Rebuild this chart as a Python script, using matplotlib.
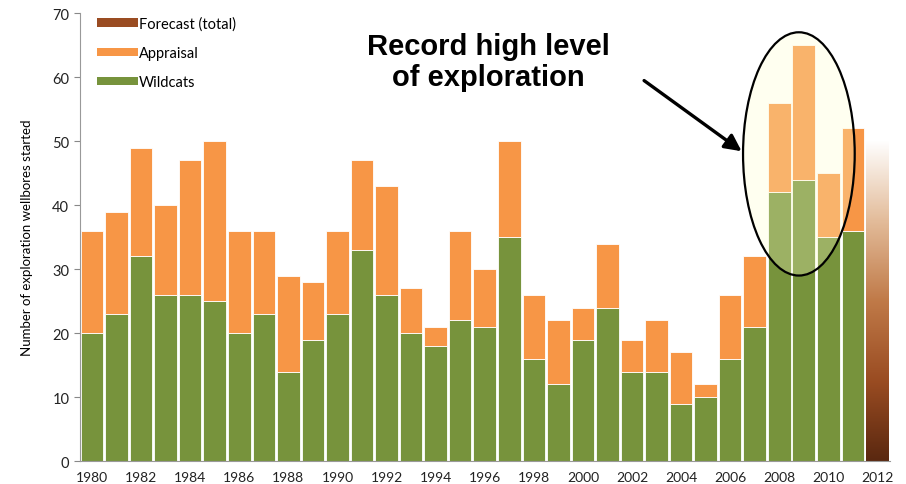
import numpy as np
import matplotlib
matplotlib.use("Agg")
import matplotlib.pyplot as plt
from matplotlib.patches import Ellipse, Patch
from matplotlib.colors import LinearSegmentedColormap

# Data
years = list(range(1980, 2012))
wildcats = [20, 23, 32, 26, 26, 25, 20, 23, 14, 19, 23, 33, 26, 20, 18, 22,
            21, 35, 16, 12, 19, 24, 14, 14, 9, 10, 16, 21, 42, 44, 35, 36]
totals = [36, 39, 49, 40, 47, 50, 36, 36, 29, 28, 36, 47, 43, 27, 21, 36,
          30, 50, 26, 22, 24, 34, 19, 22, 17, 12, 26, 32, 56, 65, 45, 52]
appraisal = [t - w for t, w in zip(totals, wildcats)]
forecast_year = 2012
forecast_total = 50
tick_years = list(range(1980, 2013, 2))

green = "#77933C"
orange = "#F79646"
plt.rcParams['font.family'] = ['Lato', 'DejaVu Sans']

fig = plt.figure(figsize=(9.06, 4.85), dpi=100)
ax = fig.add_axes([0.088, 0.047, 0.894, 0.924])

x = np.array(years)
bw = 0.92
ax.bar(x, wildcats, width=bw, color=green, edgecolor="white", linewidth=0.6, zorder=2)
ax.bar(x, appraisal, bottom=wildcats, width=bw, color=orange, edgecolor="white",
       linewidth=0.6, zorder=2)

# Forecast bar drawn as a vertical gradient
cmap = LinearSegmentedColormap.from_list("fc", ["#5a2810", "#9a4c22", "#c07a48", "#e3bc9a", "#ffffff"])
grad = np.linspace(0, 1, 256).reshape(-1, 1)
ax.imshow(grad, cmap=cmap, origin="lower", aspect="auto", zorder=2,
          extent=[forecast_year - bw / 2, forecast_year + bw / 2, 0, forecast_total])

ax.set_xlim(1979.5, 2012.5)
ax.set_ylim(0, 70)
ax.set_yticks(range(0, 71, 10))
ax.set_xticks(tick_years)
ax.set_xticklabels([str(y) for y in tick_years])
ax.tick_params(axis="x", length=0, labelsize=10, pad=7, colors="#222222")
ax.tick_params(axis="y", length=4, labelsize=10.5, color="#888888", colors="#222222")
ax.set_ylabel("Number of exploration wellbores started", fontsize=9.5, labelpad=14)
for s in ["top", "right"]:
    ax.spines[s].set_visible(False)
for s in ["left", "bottom"]:
    ax.spines[s].set_color("#999999")

# Highlight ellipse around record years
ell = Ellipse((2008.8, 48.0), 4.55, 38, facecolor="#FFFFCC", alpha=0.28,
              edgecolor="none", zorder=3)
ax.add_patch(ell)
ax.add_patch(Ellipse((2008.8, 48.0), 4.55, 38, facecolor="none", edgecolor="black",
                     linewidth=1.6, zorder=4))

ax.annotate("", xy=(0.82, 0.688), xytext=(0.694, 0.853), xycoords="axes fraction",
            arrowprops=dict(arrowstyle="-|>,head_length=1.0,head_width=0.5",
                            color="black", lw=2.4), zorder=5)
ax.text(0.504, 0.892, "Record high level\nof exploration", transform=ax.transAxes,
        ha="center", va="center", fontsize=21, fontweight="bold",
        family="Liberation Sans", linespacing=1.12, zorder=5)

handles = [Patch(facecolor="#9a4c22", edgecolor="none"),
           Patch(facecolor=orange, edgecolor="none"),
           Patch(facecolor=green, edgecolor="none")]
labels = ["Forecast (total)", "Appraisal", "Wildcats"]
ax.legend(handles, labels, loc="upper left", bbox_to_anchor=(0.005, 1.022), frameon=False,
          fontsize=10.5, handlelength=2.8, handleheight=0.5, handletextpad=0.1,
          labelspacing=1.05)

fig.savefig("out.png", dpi=100)
